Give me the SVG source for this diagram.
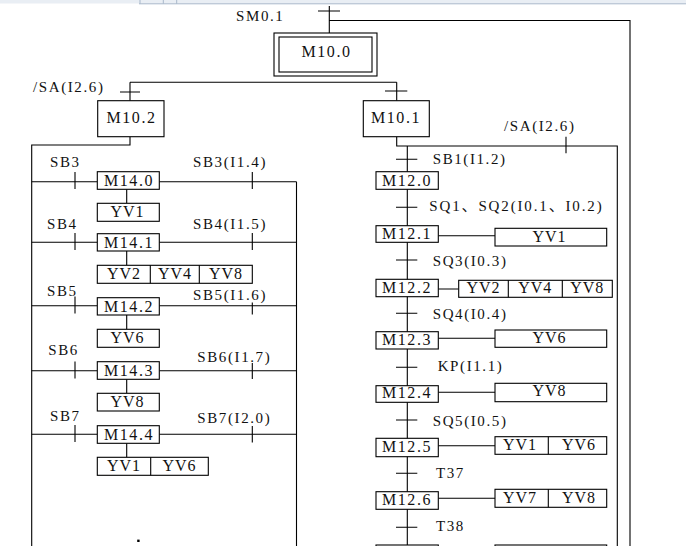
<svg xmlns="http://www.w3.org/2000/svg" width="686" height="546" viewBox="0 0 686 546">
<style>
.ln{stroke:#000;stroke-width:1.1;fill:none}
.bx{fill:#fff;stroke:#000;stroke-width:1.1}
.t{font-family:"Liberation Serif","Noto Sans CJK SC",serif;font-size:15px;letter-spacing:1.6px;fill:#111}
.bt{font-family:"Liberation Serif",serif;font-size:16px;letter-spacing:1.6px;fill:#111;text-anchor:middle}
.yt{font-family:"Liberation Serif",serif;font-size:16px;letter-spacing:1px;fill:#111;text-anchor:middle}
</style>
<rect x="0" y="0" width="686" height="546" fill="#fff"/>
<g id="chrome">
<rect x="0" y="0" width="686" height="3.5" fill="#e9eef4"/>
<line x1="139" y1="3.8" x2="686" y2="3.8" stroke="#a9b8cb" stroke-width="1"/>
<line x1="140" y1="0" x2="140" y2="3.8" stroke="#a9b8cb" stroke-width="1"/>
<line x1="163.3" y1="0" x2="163.3" y2="3.8" stroke="#a9b8cb" stroke-width="1"/>
<line x1="176.7" y1="0" x2="176.7" y2="3.8" stroke="#a9b8cb" stroke-width="1"/>
</g>
<g id="connectors" class="ln">
<path d="M329.3 6V33M318 11H340M329.3 20.5H630V546"/>
<path d="M130 82.3H396.7M130 82.3V100.7M120 92H140M396.7 82.3V100.7M385 91H407.3"/>
<path d="M130 136.7V145H31.7V546M296.5 181.7V546"/>
<path d="M31.7 181.7H97.3M159.3 181.7H296.5M75 172V189M252.3 172V189"/>
<path d="M31.7 242.3H97.3M159.3 242.3H296.5M75 233V250M252.3 233V250"/>
<path d="M31.7 305.7H97.3M159.3 305.7H296.5M75 296.5V313.5M252.3 302.5V314.5"/>
<path d="M31.7 370.7H97.3M159.3 370.7H296.5M75 361.5V378.5M252.3 363V379"/>
<path d="M31.7 434.3H97.3M159.3 434.3H296.5M75 425V442M252.3 426V442.5"/>
<path d="M126.7 189.3V203.3M126.7 251V265.3M126.7 315V329.3M126.7 379.3V393.3M126.7 443.3V457.3"/>
<path d="M396.7 136.7V146H617.3V546M566 136.7V153.3M407.3 146V546"/>
<path d="M396 159.3H417.3M396 207.3H417.3M396 260H417.3M396 313.3H417.3M396 367.3H417.3M396 420H417.3M396 473.3H417.3M396 527.3H417.3"/>
<path d="M438.3 235.7H495M438.3 289H458.7M438.3 338.3H495M438.3 392.3H495M438.3 445.7H495M438.3 498.3H495"/>
</g>
<g id="labels" class="t">
<text x="236" y="20.5">SM0.1</text>
<text x="33" y="91.5">/SA(I2.6)</text>
<text x="504" y="131">/SA(I2.6)</text>
<text x="50" y="167">SB3</text>
<text x="193" y="167">SB3(I1.4)</text>
<text x="47" y="229">SB4</text>
<text x="193" y="229">SB4(I1.5)</text>
<text x="47" y="296">SB5</text>
<text x="193" y="300">SB5(I1.6)</text>
<text x="48.3" y="355">SB6</text>
<text x="197.3" y="361.5">SB6(I1.7)</text>
<text x="50" y="421">SB7</text>
<text x="197.3" y="423">SB7(I2.0)</text>
<text x="432.7" y="164">SB1(I1.2)</text>
<text x="429.3" y="210.5" textLength="174" lengthAdjust="spacing">SQ1、SQ2(I0.1、I0.2)</text>
<text x="432.7" y="265.5">SQ3(I0.3)</text>
<text x="432.7" y="318.5">SQ4(I0.4)</text>
<text x="437.7" y="370.5">KP(I1.1)</text>
<text x="432.7" y="426">SQ5(I0.5)</text>
<text x="436" y="478">T37</text>
<text x="436" y="531">T38</text>
</g>
<g id="M10_0"><rect class="bx" x="274" y="33" width="103" height="43"/><rect class="bx" x="279" y="37" width="93" height="35"/><text class="bt" x="326.5" y="57.3">M10.0</text></g>
<g id="M10_2"><rect class="bx" x="97.7" y="100.7" width="66.3" height="36"/><text class="bt" x="131.5" y="122.8">M10.2</text></g>
<g id="M10_1"><rect class="bx" x="363.3" y="100.7" width="66" height="36"/><text class="bt" x="396" y="122.5">M10.1</text></g>
<g id="M14_0"><rect class="bx" x="97.3" y="171.7" width="62" height="17.6"/><text class="bt" x="129" y="186">M14.0</text></g>
<g id="M14_1"><rect class="bx" x="97.3" y="233.7" width="62" height="17.3"/><text class="bt" x="129" y="248">M14.1</text></g>
<g id="M14_2"><rect class="bx" x="97.3" y="297.7" width="62" height="17.3"/><text class="bt" x="129" y="312">M14.2</text></g>
<g id="M14_3"><rect class="bx" x="97.3" y="361.7" width="62" height="17.6"/><text class="bt" x="129" y="376">M14.3</text></g>
<g id="M14_4"><rect class="bx" x="97.3" y="425.7" width="62" height="17.6"/><text class="bt" x="129" y="440">M14.4</text></g>
<g id="A14_0"><rect class="bx" x="97.3" y="203.3" width="62" height="18"/><text class="yt" x="127.5" y="216.5">YV1</text></g>
<g id="A14_1"><rect class="bx" x="97.3" y="265.3" width="155" height="18"/><path class="ln" d="M150.3 265.3V283.3M199.3 265.3V283.3"/><text class="yt" x="124" y="278.5">YV2</text><text class="yt" x="175" y="278.5">YV4</text><text class="yt" x="226" y="278.5">YV8</text></g>
<g id="A14_2"><rect class="bx" x="97.3" y="329.3" width="62" height="18"/><text class="yt" x="127.5" y="342.5">YV6</text></g>
<g id="A14_3"><rect class="bx" x="97.3" y="393.3" width="62" height="17.7"/><text class="yt" x="127.5" y="406.5">YV8</text></g>
<g id="A14_4"><rect class="bx" x="97.3" y="457.3" width="111" height="18"/><path class="ln" d="M150.7 457.3V475.3"/><text class="yt" x="124" y="470.5">YV1</text><text class="yt" x="179.5" y="470.5">YV6</text></g>
<g id="M12_0"><rect class="bx" x="376" y="171.7" width="62.3" height="17.6"/><text class="bt" x="407" y="185.5">M12.0</text></g>
<g id="M12_1"><rect class="bx" x="376" y="225.7" width="62.3" height="16.6"/><text class="bt" x="407" y="239.3">M12.1</text></g>
<g id="M12_2"><rect class="bx" x="376" y="279.3" width="62.3" height="17.4"/><text class="bt" x="407" y="292.8">M12.2</text></g>
<g id="M12_3"><rect class="bx" x="376" y="331.7" width="62.3" height="17.3"/><text class="bt" x="407" y="345">M12.3</text></g>
<g id="M12_4"><rect class="bx" x="376" y="385.7" width="62.3" height="16.6"/><text class="bt" x="407" y="397.8">M12.4</text></g>
<g id="M12_5"><rect class="bx" x="376" y="438.3" width="62.3" height="18.4"/><text class="bt" x="407" y="452">M12.5</text></g>
<g id="M12_6"><rect class="bx" x="376" y="491.7" width="62.3" height="17.6"/><text class="bt" x="407" y="505.3">M12.6</text></g>
<g id="M12_7"><rect class="bx" x="376" y="545" width="62.3" height="20"/></g>
<g id="A12_1"><rect class="bx" x="495" y="228.3" width="111.7" height="17.7"/><text class="yt" x="549.5" y="241.7">YV1</text></g>
<g id="A12_2"><rect class="bx" x="458.7" y="280.3" width="153.6" height="17"/><path class="ln" d="M508.3 280.3V297.3M562.3 280.3V297.3"/><text class="yt" x="483.5" y="293.3">YV2</text><text class="yt" x="535.3" y="293.3">YV4</text><text class="yt" x="587.3" y="293.3">YV8</text></g>
<g id="A12_3"><rect class="bx" x="495" y="330" width="111.7" height="17.3"/><text class="yt" x="549.5" y="343.3">YV6</text></g>
<g id="A12_4"><rect class="bx" x="495" y="383.3" width="111.7" height="18.4"/><text class="yt" x="549.5" y="396">YV8</text></g>
<g id="A12_5"><rect class="bx" x="495" y="436.7" width="111.7" height="17.6"/><path class="ln" d="M548.3 436.7V454.3"/><text class="yt" x="520" y="449.5">YV1</text><text class="yt" x="579" y="449.5">YV6</text></g>
<g id="A12_6"><rect class="bx" x="495" y="489.3" width="111.7" height="18"/><path class="ln" d="M548.3 489.3V507.3"/><text class="yt" x="520" y="502.7">YV7</text><text class="yt" x="579" y="502.7">YV8</text></g>
<g id="A12_7"><rect class="bx" x="495" y="545" width="111.7" height="20"/></g>
<rect x="137.2" y="539.6" width="2.4" height="2.4" fill="#000"/>
</svg>
